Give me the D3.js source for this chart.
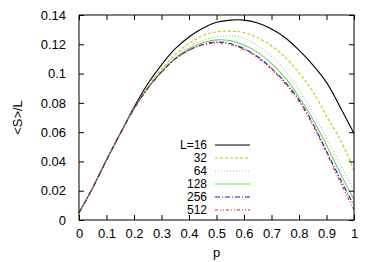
<!DOCTYPE html>
<html>
<head>
<meta charset="utf-8">
<script src="https://cdn.jsdelivr.net/npm/d3@7"></script>
<style>
  body { margin: 0; background: #fff; }
  text { font-family: "Liberation Sans", Arial, sans-serif; }
</style>
</head>
<body>
<div id="chart"></div>
<script>
// p values (x axis)
var pValues = [0, 0.05, 0.1, 0.15, 0.2, 0.25, 0.3, 0.35, 0.4, 0.45, 0.5,
               0.55, 0.6, 0.65, 0.7, 0.75, 0.8, 0.85, 0.9, 0.95, 1];

// <S>/L for each system size
var sizes = ["L=16", "32", "64", "128", "256", "512"];
var s16  = [0.005, 0.022, 0.041, 0.059, 0.077, 0.093, 0.106, 0.117, 0.125, 0.131, 0.135,
            0.1365, 0.1365, 0.1345, 0.1305, 0.1245, 0.116, 0.106, 0.094, 0.077, 0.059];
var s32  = [0.005, 0.022, 0.041, 0.059, 0.076, 0.091, 0.103, 0.113, 0.1205, 0.126, 0.1285,
            0.129, 0.128, 0.1245, 0.119, 0.111, 0.1005, 0.088, 0.071, 0.055, 0.034];
var s64  = [0.005, 0.022, 0.041, 0.059, 0.076, 0.0905, 0.102, 0.1115, 0.118, 0.1225, 0.125,
            0.1257, 0.124, 0.119, 0.112, 0.102, 0.089, 0.073, 0.056, 0.038, 0.020];
var s128 = [0.005, 0.022, 0.041, 0.059, 0.076, 0.090, 0.1015, 0.1105, 0.117, 0.121, 0.123,
            0.1225, 0.1195, 0.1145, 0.107, 0.097, 0.084, 0.069, 0.051, 0.032, 0.014];
var s256 = [0.005, 0.022, 0.041, 0.059, 0.076, 0.090, 0.101, 0.110, 0.116, 0.1198, 0.1215,
            0.1205, 0.117, 0.1115, 0.1035, 0.094, 0.082, 0.066, 0.047, 0.028, 0.010];
var s512 = [0.005, 0.022, 0.041, 0.059, 0.076, 0.090, 0.101, 0.110, 0.116, 0.1195, 0.121,
            0.1198, 0.1165, 0.111, 0.103, 0.093, 0.081, 0.065, 0.046, 0.026, 0.007];

var xTicks = [0, 0.1, 0.2, 0.3, 0.4, 0.5, 0.6, 0.7, 0.8, 0.9, 1];
var yTicks = [0, 0.02, 0.04, 0.06, 0.08, 0.1, 0.12, 0.14];

var allSeries = [s16, s32, s64, s128, s256, s512];
var colors = ["#000000", "#c8c800", "#b8b8b8", "#60d860", "#1818c8", "#e81818"];
var dashes = [null, "3,2", "1,2", null, "5,2,1,2", "3,2,1,2,1,2"];

var W = 374, H = 262;
var margin = { top: 15, right: 20, bottom: 42, left: 79 };
var fontSize = "13px";

var svg = d3.select("#chart").append("svg")
    .attr("width", W)
    .attr("height", H);

var x = d3.scaleLinear().domain([0, 1]).range([margin.left, W - margin.right]);
var y = d3.scaleLinear().domain([0, 0.14]).range([H - margin.bottom, margin.top]);

var fmt = function(d) { return d === 0 ? "0" : String(+d.toFixed(2)); };

// curves
var line = d3.line()
    .x(function(d, i) { return x(pValues[i]); })
    .y(function(d) { return y(d); })
    .curve(d3.curveCatmullRom);

svg.append("g")
    .selectAll("path")
    .data(allSeries)
    .enter()
    .append("path")
    .attr("d", line)
    .attr("fill", "none")
    .attr("stroke", function(d, i) { return colors[i]; })
    .attr("stroke-width", 1.1)
    .attr("stroke-dasharray", function(d, i) { return dashes[i]; });

// axes: ticks pointing inward, mirrored on top and right
var tick = 5;
svg.append("g")
    .attr("transform", "translate(0," + y(0) + ")")
    .call(d3.axisBottom(x).tickValues(xTicks).tickSizeInner(-tick).tickSizeOuter(0).tickPadding(9).tickFormat(fmt));
svg.append("g")
    .attr("transform", "translate(0," + y(0.14) + ")")
    .call(d3.axisTop(x).tickValues(xTicks).tickSizeInner(-tick).tickSizeOuter(0).tickFormat(""));
svg.append("g")
    .attr("transform", "translate(" + x(0) + ",0)")
    .call(d3.axisLeft(y).tickValues(yTicks).tickSizeInner(-tick).tickSizeOuter(0).tickPadding(13).tickFormat(fmt));
svg.append("g")
    .attr("transform", "translate(" + x(1) + ",0)")
    .call(d3.axisRight(y).tickValues(yTicks).tickSizeInner(-tick).tickSizeOuter(0).tickFormat(""));

svg.selectAll(".domain").remove();
svg.selectAll(".tick line").attr("stroke", "#000");
svg.selectAll(".tick text").style("font-size", fontSize).attr("fill", "#000");

// frame
svg.append("rect")
    .attr("x", x(0))
    .attr("y", y(0.14))
    .attr("width", x(1) - x(0))
    .attr("height", y(0) - y(0.14))
    .attr("fill", "none")
    .attr("stroke", "#000")
    .attr("stroke-width", 1);

// axis labels
svg.append("text")
    .attr("x", (x(0) + x(1)) / 2)
    .attr("y", 257)
    .attr("text-anchor", "middle")
    .style("font-size", fontSize)
    .text("p");

svg.append("text")
    .attr("transform", "translate(22," + ((y(0) + y(0.14)) / 2) + ") rotate(-90)")
    .attr("text-anchor", "middle")
    .style("font-size", fontSize)
    .text("<S>/L");

// legend
var legend = svg.append("g")
    .selectAll("g")
    .data(sizes)
    .enter()
    .append("g")
    .attr("transform", function(d, i) { return "translate(0," + (145 + i * 13) + ")"; });

legend.append("text")
    .attr("x", 207)
    .attr("dy", "0.35em")
    .attr("text-anchor", "end")
    .style("font-size", "12px")
    .text(function(d) { return d; });

legend.append("line")
    .attr("x1", 215)
    .attr("x2", 250)
    .attr("stroke", function(d, i) { return colors[i]; })
    .attr("stroke-width", 1.1)
    .attr("stroke-dasharray", function(d, i) { return dashes[i]; });
</script>
</body>
</html>
